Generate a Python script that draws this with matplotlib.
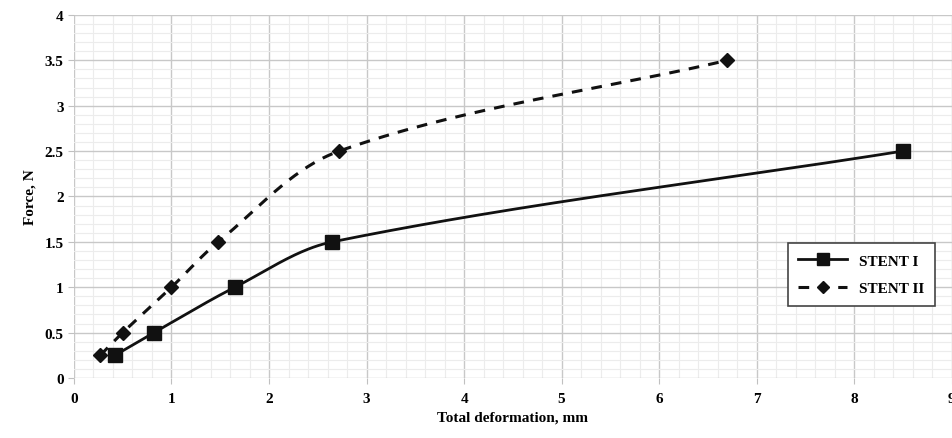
import numpy as np
import matplotlib.pyplot as plt
from matplotlib.ticker import MultipleLocator

# data
stent1_x = [0.42, 0.82, 1.65, 2.65, 8.5]
stent1_y = [0.25, 0.5, 1.0, 1.5, 2.5]
stent2_x = [0.27, 0.5, 1.0, 1.48, 2.72, 6.7]
stent2_y = [0.25, 0.5, 1.0, 1.5, 2.5, 3.5]

XS, YS = 878 / 9, 363 / 4  # px per unit, used so the smoothing looks even on screen


def smooth(xs, ys, n=60):
    # smoothed line like a spreadsheet: bezier segments, tangent along neighbours,
    # control arm a third of the segment length (in screen space)
    p = np.column_stack([np.array(xs) * XS, np.array(ys) * YS])
    m = len(p)
    tan = []
    for i in range(m):
        a = p[max(i - 1, 0)]
        b = p[min(i + 1, m - 1)]
        d = b - a
        tan.append(d / np.hypot(*d))
    out = []
    for i in range(m - 1):
        p1, p2 = p[i], p[i + 1]
        L = np.hypot(*(p2 - p1)) / 3
        c1 = p1 + tan[i] * L
        c2 = p2 - tan[i + 1] * L
        s = np.linspace(0, 1, n)[:, None]
        seg = ((1 - s) ** 3) * p1 + 3 * ((1 - s) ** 2) * s * c1 + 3 * (1 - s) * s ** 2 * c2 + s ** 3 * p2
        out.append(seg if i == 0 else seg[1:])
    seg = np.vstack(out)
    return seg[:, 0] / XS, seg[:, 1] / YS


plt.rcParams['font.family'] = ['Liberation Serif', 'DejaVu Serif']
plt.rcParams['font.weight'] = 'bold'

fig = plt.figure(figsize=(9.52, 4.39), dpi=100)
ax = fig.add_axes([0.0777, 0.1367, 0.922, 0.827])

sx, sy = smooth(stent1_x, stent1_y)
ax.plot(sx, sy, color='#111111', lw=2)
ax.plot(stent1_x, stent1_y, 's', color='#111111', ms=10, ls='none')
ax.plot([], [], color='#111111', lw=2, marker='s', ms=8, label='STENT I')

dx, dy = smooth(stent2_x, stent2_y)
ax.plot(dx, dy, color='#111111', lw=2.2, ls=(0, (3.5, 3)))
ax.plot(stent2_x, stent2_y, 'D', color='#111111', ms=7, ls='none')
ax.plot([], [], color='#111111', lw=2.2, ls=(0, (3.5, 3)), marker='D', ms=6, label='STENT II')

ax.set_xlim(0, 9)
ax.set_ylim(0, 4)
ax.xaxis.set_major_locator(MultipleLocator(1))
ax.xaxis.set_minor_locator(MultipleLocator(0.2))
ax.yaxis.set_major_locator(MultipleLocator(0.5))
ax.yaxis.set_minor_locator(MultipleLocator(0.1))
ax.set_yticks(np.arange(0, 4.01, 0.5))
ax.set_yticklabels(['0', '0.5', '1', '1.5', '2', '2.5', '3', '3.5', '4'])
ax.grid(which='major', color='#c8c8c8', lw=1)
ax.grid(which='minor', color='#ececec', lw=0.8)
ax.set_axisbelow(True)
for s in ax.spines.values():
    s.set_visible(False)
ax.tick_params(which='major', length=4, color='#c0c0c0', labelsize=11)
ax.tick_params(which='minor', length=0)
ax.tick_params(axis='x', pad=6)
for lab in ax.get_xticklabels() + ax.get_yticklabels():
    lab.set_fontweight('bold')

ax.set_xlabel('Total deformation, mm', fontsize=11, fontweight='bold', labelpad=4)
ax.set_ylabel('Force, N', fontsize=11, fontweight='bold', labelpad=6)

leg = ax.legend(loc='upper right', bbox_to_anchor=(0.99, 0.392), fancybox=False,
                edgecolor='#444444', framealpha=1, fontsize=11, handlelength=3.2,
                borderpad=0.7, labelspacing=0.9)
leg.get_frame().set_linewidth(1.2)
for t in leg.get_texts():
    t.set_fontweight('bold')

fig.savefig('out.png', dpi=100)
